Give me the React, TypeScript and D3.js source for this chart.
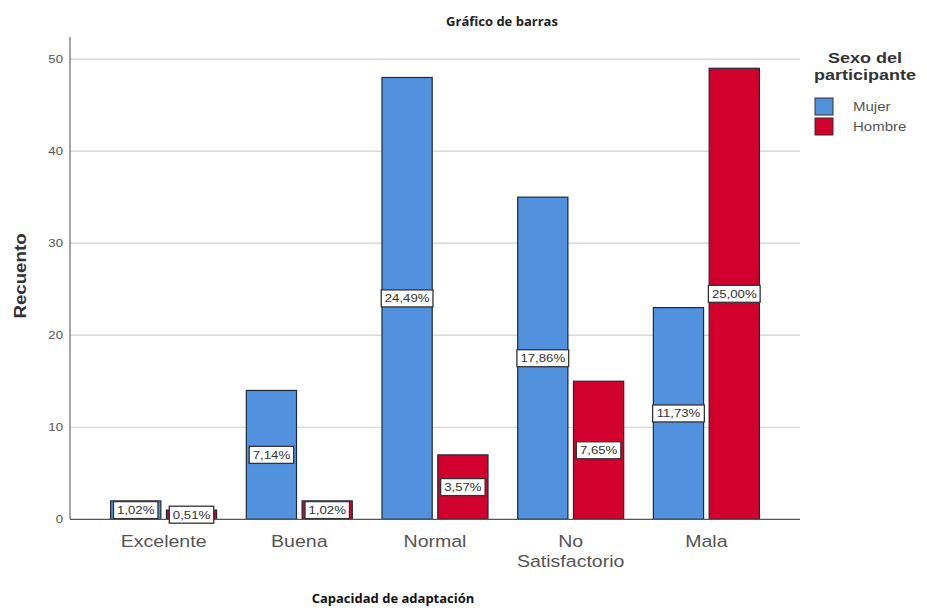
import * as d3 from "d3";
import * as React from "react";

const categories = ["Excelente", "Buena", "Normal", "No Satisfactorio", "Mala"];
const seriesNames = ["Mujer", "Hombre"];
const mujer = [2, 14, 48, 35, 23];
const hombre = [1, 2, 7, 15, 49];
const mujerPct = ["1,02%", "7,14%", "24,49%", "17,86%", "11,73%"];
const hombrePct = ["0,51%", "1,02%", "3,57%", "7,65%", "25,00%"];
const yTicks = [0, 10, 20, 30, 40, 50];

const colors = ["#5291dd", "#d1002c"];

const W = 927;
const H = 612;
const left = 70;
const right = 800;
const top = 37;
const bottom = 519.3;
// the reference text looks a bit wider than plain Arial
const sx = 1.2;

const App: React.FC = () => {
  const x0 = d3
    .scaleBand()
    .domain(categories)
    .range([left, right])
    .paddingInner(0)
    .paddingOuter(0.19);

  const groupW = 106;
  const x1 = d3
    .scaleBand()
    .domain(seriesNames)
    .range([0, groupW])
    .paddingInner(0.1);

  const y = d3.scaleLinear().domain([0, 52.4]).range([bottom, top]);

  const series = [mujer, hombre];
  const pcts = [mujerPct, hombrePct];
  const font = "Arial, 'Liberation Sans', sans-serif";

  // rough width of a percentage label at 11px Arial
  const textW = (s: string) =>
    s.split("").reduce((w, ch) => w + (ch === "," ? 3.1 : ch === "%" ? 9.8 : 6.1), 0);

  return (
    <svg
      width={W}
      height={H}
      style={{ position: "absolute", left: 0, top: 0, background: "#fff" }}
    >
      {/* title */}
      <text
        x={502}
        y={26}
        textAnchor="middle"
        fontFamily="'Open Sans', sans-serif"
        fontWeight="bold"
        fontSize={13}
        fill="#222"
      >
        Gráfico de barras
      </text>

      {/* grid */}
      {yTicks.slice(1).map((t) => (
        <line
          key={t}
          x1={left}
          x2={right}
          y1={y(t)}
          y2={y(t)}
          stroke="#cfcfcf"
          strokeWidth={1.2}
        />
      ))}

      {/* y ticks */}
      {yTicks.map((t) => (
        <text
          key={t}
          transform={`translate(63,${y(t)}) scale(${sx},1)`}
          dy="0.35em"
          textAnchor="end"
          fontFamily={font}
          fontSize={11}
          fill="#555"
        >
          {t}
        </text>
      ))}

      {/* bars */}
      {categories.map((c, i) => {
        const gx = (x0(c) ?? 0) + (x0.bandwidth() - groupW) / 2;
        return (
          <g key={c} transform={`translate(${gx},0)`}>
            {seriesNames.map((s, j) => {
              const v = series[j][i];
              const bx = x1(s) ?? 0;
              return (
                <rect
                  key={s}
                  x={bx}
                  y={y(v)}
                  width={x1.bandwidth()}
                  height={bottom - y(v)}
                  fill={colors[j]}
                  stroke="#1f2a3a"
                  strokeWidth={1.2}
                />
              );
            })}
          </g>
        );
      })}

      {/* axes */}
      <line x1={left} x2={left} y1={top} y2={bottom} stroke="#888" strokeWidth={1.5} />
      <line x1={left} x2={right} y1={bottom} y2={bottom} stroke="#555" strokeWidth={1.2} />

      {/* percentage labels */}
      {categories.map((c, i) => {
        const gx = (x0(c) ?? 0) + (x0.bandwidth() - groupW) / 2;
        return (
          <g key={c} transform={`translate(${gx},0)`}>
            {seriesNames.map((s, j) => {
              const v = series[j][i];
              const cx = (x1(s) ?? 0) + x1.bandwidth() / 2;
              const cy = y(v / 2);
              const label = pcts[j][i];
              const bw = textW(label) * sx + 7;
              return (
                <g key={s}>
                  <rect
                    x={cx - bw / 2}
                    y={cy - 8.5}
                    width={bw}
                    height={17}
                    fill="#fff"
                    stroke="#333"
                    strokeWidth={1.3}
                  />
                  <text
                    transform={`translate(${cx},${cy}) scale(${sx},1)`}
                    dy="0.36em"
                    textAnchor="middle"
                    fontFamily={font}
                    fontSize={11}
                    fill="#333"
                  >
                    {label}
                  </text>
                </g>
              );
            })}
          </g>
        );
      })}

      {/* x tick labels */}
      {categories.map((c) => {
        const cx = (x0(c) ?? 0) + x0.bandwidth() / 2;
        const parts = c === "No Satisfactorio" ? ["No", "Satisfactorio"] : [c];
        return (
          <text
            key={c}
            transform={`translate(${cx},547) scale(1.15,1)`}
            textAnchor="middle"
            fontFamily={font}
            fontSize={17}
            fill="#555"
          >
            {parts.map((p, k) => (
              <tspan key={p} x={0} dy={k === 0 ? 0 : 20}>
                {p}
              </tspan>
            ))}
          </text>
        );
      })}

      {/* axis titles */}
      <text
        transform={`translate(26,276) rotate(-90) scale(1.1,1)`}
        textAnchor="middle"
        fontFamily={font}
        fontWeight="bold"
        fontSize={17}
        fill="#333"
      >
        Recuento
      </text>
      <text
        x={393}
        y={603}
        textAnchor="middle"
        fontFamily="'Open Sans', sans-serif"
        fontWeight="bold"
        fontSize={13}
        fill="#111"
      >
        Capacidad de adaptación
      </text>

      {/* legend */}
      <g fontFamily={font}>
        <text
          transform={`translate(865,63) scale(${sx},1)`}
          textAnchor="middle"
          fontWeight="bold"
          fontSize={15}
          fill="#333"
        >
          Sexo del
        </text>
        <text
          transform={`translate(865,80) scale(${sx},1)`}
          textAnchor="middle"
          fontWeight="bold"
          fontSize={15}
          fill="#333"
        >
          participante
        </text>
        {seriesNames.map((s, j) => (
          <g key={s} transform={`translate(815,${98 + j * 20})`}>
            <rect width={18} height={17} fill={colors[j]} stroke="#333" strokeWidth={1} />
            <text
              transform={`translate(38,8.5) scale(${sx},1)`}
              dy="0.35em"
              fontSize={12.5}
              fill="#555"
            >
              {s}
            </text>
          </g>
        ))}
      </g>
    </svg>
  );
};

export default App;
